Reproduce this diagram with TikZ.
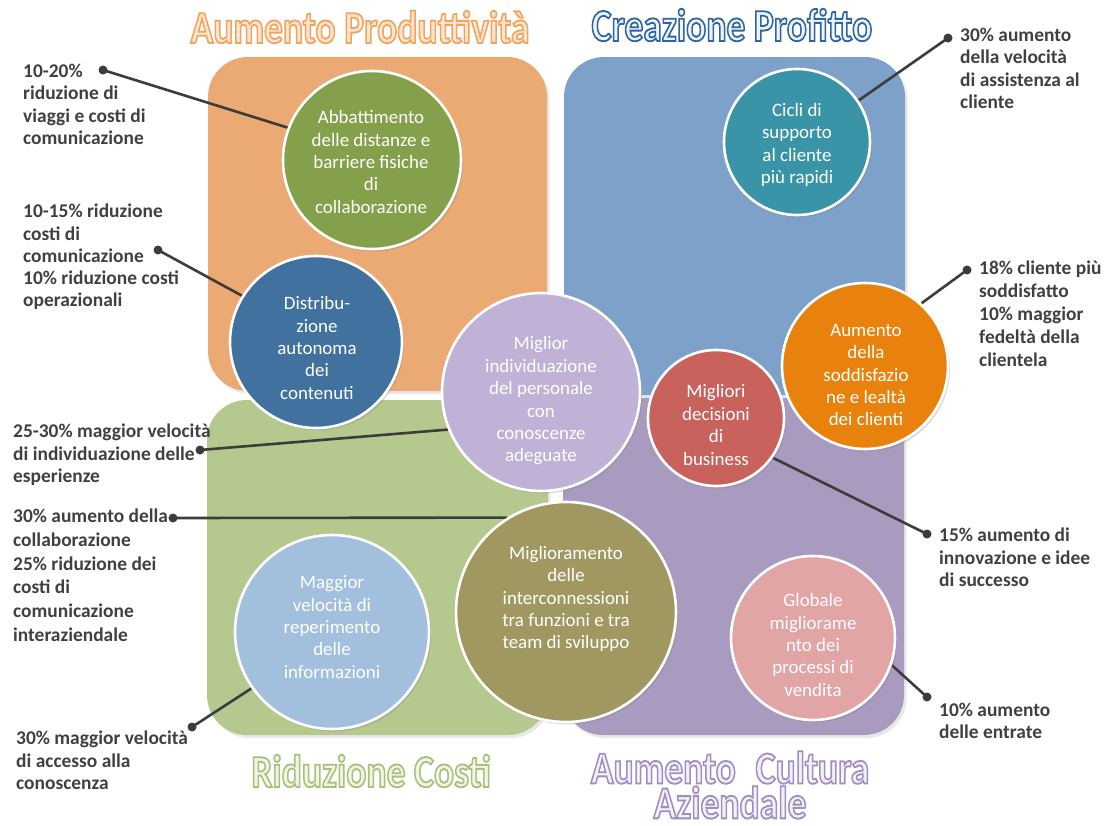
\documentclass[tikz,border=0pt]{standalone}
\usepackage{fontspec}
\setmainfont{Carlito}
\newfontfamily\ttlfamily[FakeBold=4]{Carlito Bold}
\usetikzlibrary{calc,shadows}
\pgfdeclarelayer{bg}
\pgfdeclarelayer{lines}
\pgfsetlayers{bg,lines,main}
\definecolor{orR}{HTML}{EBAA74}
\definecolor{blR}{HTML}{7DA1C9}
\definecolor{grR}{HTML}{B5C98F}
\definecolor{puR}{HTML}{A89BBF}
\definecolor{cA}{HTML}{85A04A}
\definecolor{cB}{HTML}{41719F}
\definecolor{cC}{HTML}{C0B2D6}
\definecolor{cD}{HTML}{3A94A8}
\definecolor{cE}{HTML}{E9820C}
\definecolor{cF}{HTML}{C9625C}
\definecolor{cG}{HTML}{A09860}
\definecolor{cH}{HTML}{E2A5A5}
\definecolor{cI}{HTML}{A3BFDE}
\definecolor{labcol}{HTML}{404040}
\definecolor{lc}{HTML}{3C3C3C}
\definecolor{tOrF}{HTML}{FDE6CF}
\definecolor{tBlF}{HTML}{EEF4FB}
\definecolor{tGrF}{HTML}{F0F5E6}
\definecolor{tPuF}{HTML}{F3F0F8}
% one outlined title line: outline colour (r g b), fill colour, text
\newcommand\tline[3]{\color{#2}\special{pdf:literal direct #1 RG}\scalebox{0.82}[1]{#3}}
\begin{document}
\begin{tikzpicture}[x=1bp,y=-1bp,
 lab/.style={anchor=north west, inner sep=0, align=left, text=labcol, font=\bfseries\fontsize{19.5}{22.3}\selectfont},
 circ/.style={circle, draw=white, line width=2.6bp, inner sep=0, drop shadow={shadow xshift=2bp, shadow yshift=-2.5bp, opacity=0.28}},
 ctext/.style={align=center, text=white, inner sep=0, font=\fontsize{19}{22.5}\selectfont},
 conn/.style={draw=lc, line width=2.6bp},
 dotn/.style={circle, fill=lc, inner sep=0, minimum size=9bp},
 ttl/.style={inner sep=0, align=center, font=\ttlfamily\fontsize{46}{35}\selectfont},
 rbox/.style={rounded corners=40bp, drop shadow={shadow xshift=2.5bp, shadow yshift=-3bp, opacity=0.18}}]
\useasboundingbox (0,0) rectangle (1108,826);
\begin{pgfonlayer}{bg}
\fill[white] (0,0) rectangle (1108,826);
\fill[orR,rbox] (208,57) rectangle (547,391);
\fill[blR,rbox] (564,57) rectangle (905,395);
\fill[grR,rbox] (207,400) rectangle (548,735);
\fill[puR,rbox] (563,398) rectangle (904,735);
\end{pgfonlayer}

% titles
\node[ttl] (tA) at (360,27) {\tline{0.949 0.639 0.369}{tOrF}{Aumento Produttività}};
\node[ttl] (tB) at (732,25) {\tline{0.184 0.392 0.635}{tBlF}{Creazione Profitto}};
\node[ttl] (tC) at (371,771) {\tline{0.655 0.753 0.478}{tGrF}{Riduzione Costi}};
\node[ttl] (tD) at (730,785) {\tline{0.627 0.553 0.761}{tPuF}{Aumento\hspace{0.3em} Cultura}\\\tline{0.627 0.553 0.761}{tPuF}{Aziendale}};

% circles
\node[circ, fill=cA, minimum size=178bp] (c1) at (372,160) {};
\node[circ, fill=cB, minimum size=172bp] (c2) at (316,342) {};
\node[circ, fill=cC, minimum size=198bp] (c3) at (541,392) {};
\node[circ, fill=cD, minimum size=146bp] (c4) at (797,142) {};
\node[circ, fill=cE, minimum size=166bp] (c5) at (865,366) {};
\node[circ, fill=cF, minimum size=136bp] (c6) at (716,418) {};
\node[circ, fill=cG, minimum size=220bp] (c7) at (566,612) {};
\node[circ, fill=cH, minimum size=164bp] (c8) at (813,638) {};
\node[circ, fill=cI, minimum size=194bp] (c9) at (332,632) {};

\node[ctext] (t1) at (371,162) {Abbattimento\\delle distanze e\\barriere fisiche\\di\\collaborazione};
\node[ctext] (t2) at (317,348) {Distribu-\\zione\\autonoma\\dei\\contenuti};
\node[ctext] (t3) at (541,401) {Miglior\\individuazione\\del personale\\con\\conoscenze\\adeguate};
\node[ctext] (t4) at (797,145) {Cicli di\\supporto\\al cliente\\più rapidi};
\node[ctext] (t5) at (866,375) {Aumento\\della\\soddisfazio\\ne e lealtà\\dei clienti};
\node[ctext] (t6) at (716,425) {Migliori\\decisioni\\di\\business};
\node[ctext] (t7) at (566,599) {Miglioramento\\delle\\interconnessioni\\tra funzioni e tra\\team di sviluppo};
\node[ctext] (t8) at (813,645) {Globale\\migliorame\\nto dei\\processi di\\vendita};
\node[ctext] (t9) at (332,627) {Maggior\\velocità di\\reperimento\\delle\\informazioni};

% labels
\node[lab] (l1) at (23,64) {10-20\%\\riduzione di\\viaggi e costi di\\comunicazione};
\node[lab] (l2) at (23,204) {10-15\% riduzione\\costi di\\comunicazione\\10\% riduzione costi\\operazionali};
\node[lab] (l3) at (13,424) {25-30\% maggior velocità\\di individuazione delle\\esperienze};
\node[lab, font=\bfseries\fontsize{19.5}{23.8}\selectfont] (l4) at (13,509) {30\% aumento della\\collaborazione\\25\% riduzione dei\\costi di\\comunicazione\\interaziendale};
\node[lab] (l5) at (16,731) {30\% maggior velocità\\di accesso alla\\conoscenza};
\node[lab] (r1) at (960,28) {30\% aumento\\della velocità\\di assistenza al\\cliente};
\node[lab, font=\bfseries\fontsize{19.5}{23}\selectfont] (r2) at (979,261) {18\% cliente più\\soddisfatto\\10\% maggior\\fedeltà della\\clientela};
\node[lab] (r3) at (939,528) {15\% aumento di\\innovazione e idee\\di successo};
\node[lab] (r4) at (939,703) {10\% aumento\\delle entrate};

% dots
\node[dotn] (d1) at (103,70) {};
\node[dotn] (d2) at (158,250) {};
\node[dotn] (d3) at (200,450) {};
\node[dotn] (d4) at (173,518) {};
\node[dotn] (d5) at (192,727) {};
\node[dotn] (d6) at (948,38) {};
\node[dotn] (d7) at (967,270) {};
\node[dotn] (d8) at (927,534) {};
\node[dotn] (d9) at (927,697) {};

\begin{pgfonlayer}{lines}
\draw[conn] (d1.center) -- (c1.159);
\draw[conn] (d2.center) -- (c2.148);
\draw[conn] (d3.center) -- (c3.202);
\draw[conn] (d4.center) -- (c7.122);
\draw[conn] (d5.center) -- (c9.215);
\draw[conn] (d6.center) -- (c4.34);
\draw[conn] (d7.center) -- (c5.48);
\draw[conn] (d8.center) -- (c6.-35);
\draw[conn] (d9.center) -- (c8.-19);
\end{pgfonlayer}
\end{tikzpicture}
\end{document}
